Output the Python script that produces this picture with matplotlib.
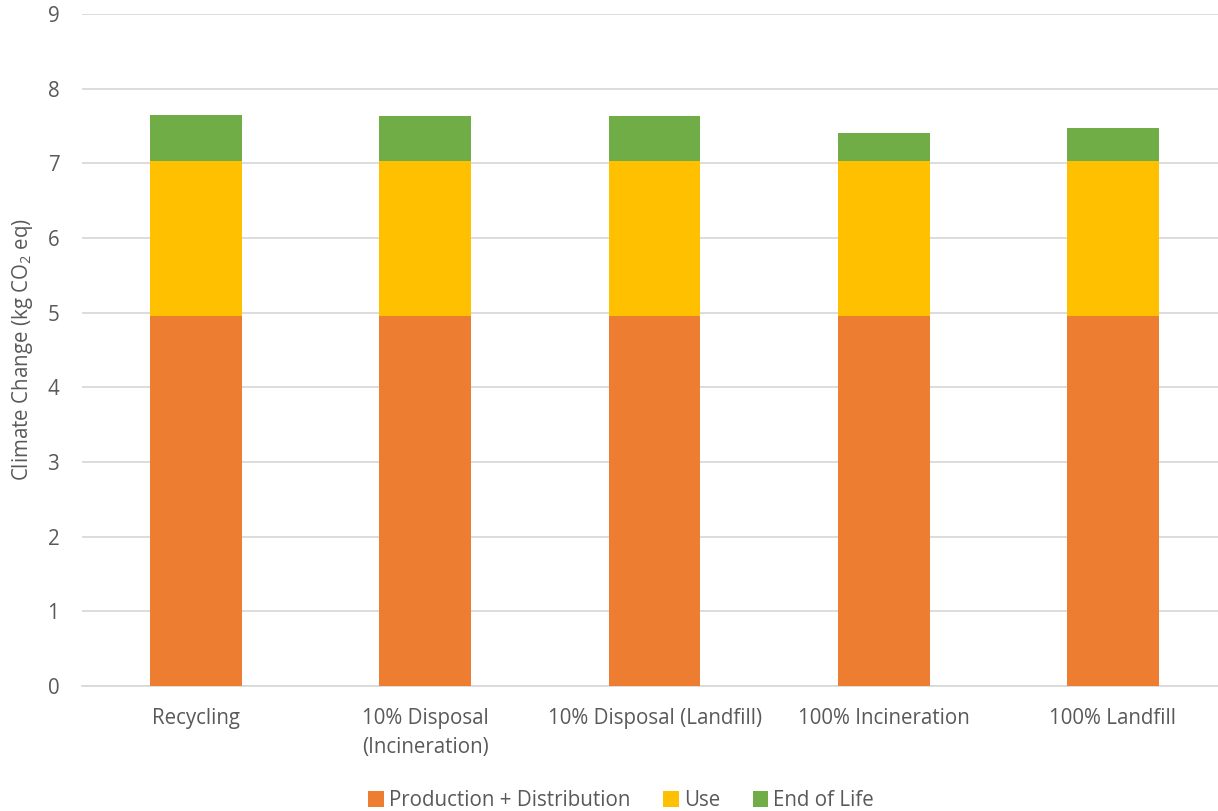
import numpy as np
import matplotlib
matplotlib.use("Agg")
import matplotlib.pyplot as plt

plt.rcParams['font.family'] = ['Open Sans', 'DejaVu Sans']
plt.rcParams['mathtext.fontset'] = 'custom'
plt.rcParams['mathtext.rm'] = 'Open Sans'
plt.rcParams['mathtext.it'] = 'Open Sans'

categories = ["Recycling", "10% Disposal\n(Incineration)", "10% Disposal (Landfill)",
              "100% Incineration", "100% Landfill"]
production = [4.96, 4.96, 4.96, 4.96, 4.96]
use = [2.07, 2.07, 2.07, 2.07, 2.07]
end_of_life = [0.62, 0.60, 0.61, 0.38, 0.445]

series_names = ["Production + Distribution", "Use", "End of Life"]
colours = ["#ED7D31", "#FFC000", "#70AD47"]
text_col = "#595959"
fs = 14.8

fig = plt.figure(figsize=(12.18, 8.11), dpi=100)
ax = fig.add_axes([81.5 / 1218, 1 - 686 / 811, 1146 / 1218, 672 / 811])

x = np.arange(len(categories))
bottom = np.zeros(len(categories))
for name, vals, col in zip(series_names, [production, use, end_of_life], colours):
    ax.bar(x, vals, 0.4, bottom=bottom, color=col, label=name, zorder=3)
    bottom += np.array(vals)

ax.set_xlim(-0.5, len(categories) - 0.5)
ax.set_ylim(0, 9)
ax.set_yticks(range(0, 10))
ax.set_xticks(x)
ax.set_xticklabels(categories, linespacing=1.5)
ax.yaxis.grid(True, color="#d9d9d9", linewidth=1.3, zorder=0)
ax.tick_params(axis="both", length=0, labelsize=fs, colors=text_col)
ax.tick_params(axis="x", pad=16)
ax.tick_params(axis="y", pad=16)
for s in ["top", "right", "left"]:
    ax.spines[s].set_visible(False)
ax.spines["bottom"].set_color("#d9d9d9")
ax.spines["bottom"].set_linewidth(1.3)

ax.set_ylabel("Climate Change (kg CO$_2$ eq)", fontsize=fs, color=text_col, labelpad=9)

fig.legend(loc="lower center", bbox_to_anchor=(0.51, -0.023), ncol=3, frameon=False,
           fontsize=fs, labelcolor=text_col, handlelength=0.75, handleheight=0.75,
           handletextpad=0.25, columnspacing=1.6)

fig.savefig("out.png", dpi=100)
